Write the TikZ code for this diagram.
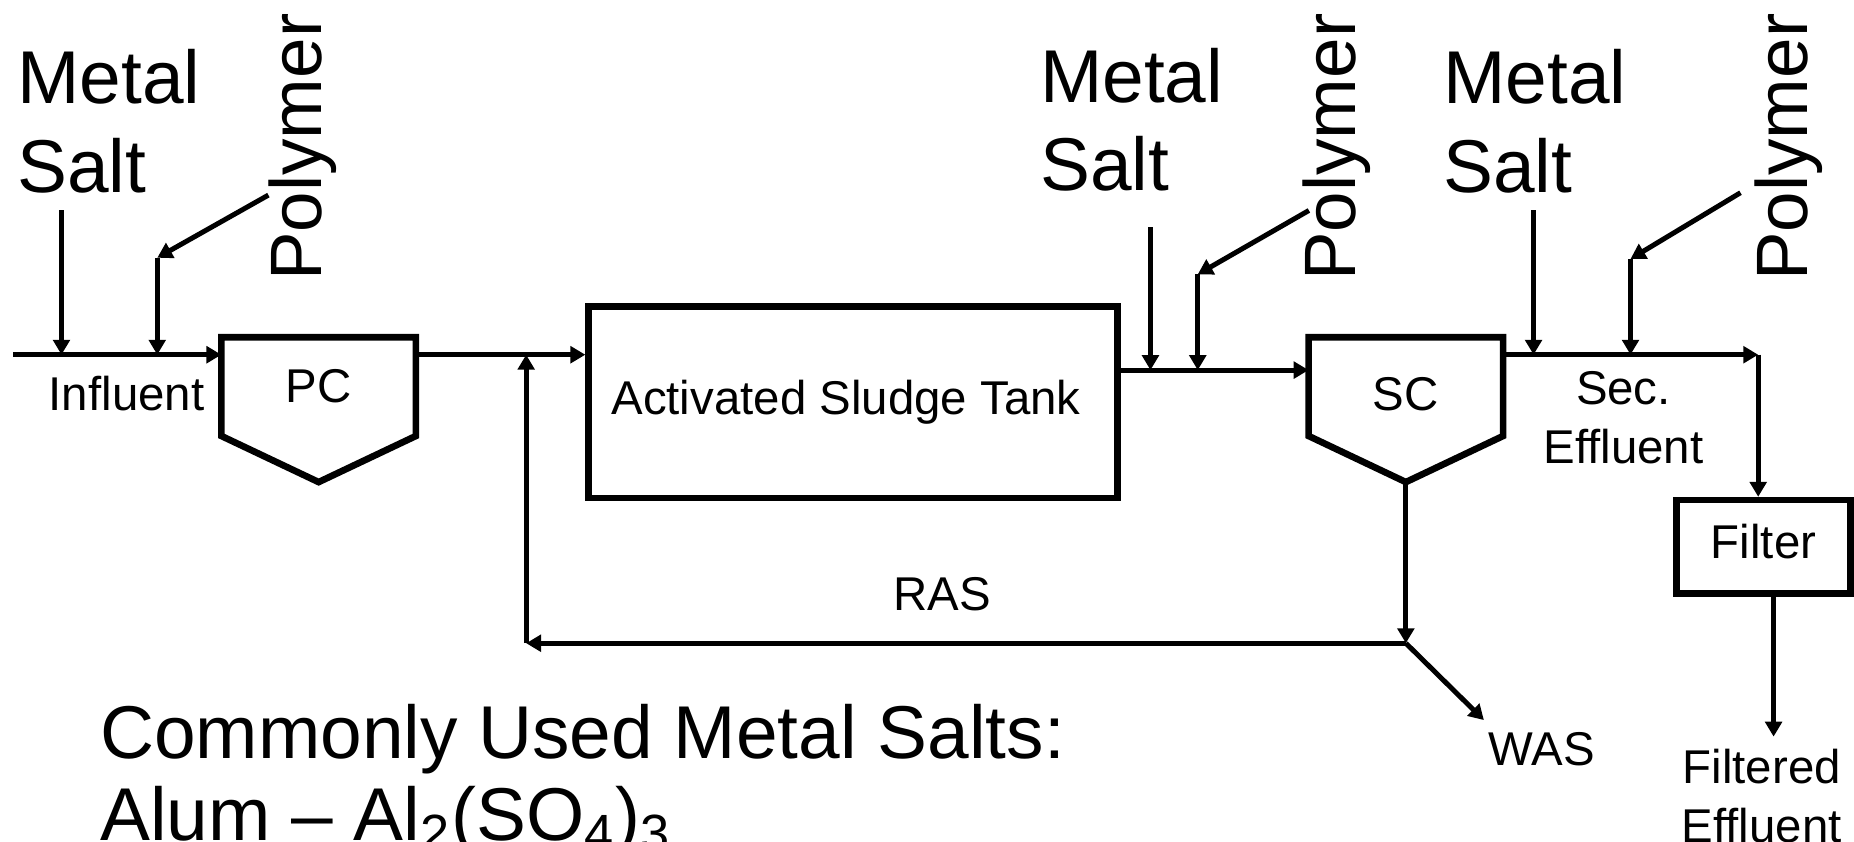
\documentclass[tikz,border=0pt]{standalone}
\usepackage{fontspec}
\setmainfont{Liberation Sans}
\usetikzlibrary{arrows.meta, calc}
\newcommand{\tagfont}{\fontsize{11.4}{14.2}\selectfont}
\newcommand{\chemfont}{\fontsize{18}{21.3}\selectfont}
\tikzset{
  tank/.style={rectangle, draw=black, line width=1.6pt, inner sep=0pt,
    font=\tagfont},
  settler/.style={rectangle, inner sep=0pt, minimum width=1.63cm,
    minimum height=0.82cm, font=\tagfont},
  settlerline/.style={line width=1.6pt, line join=miter},
  flow/.style={-{Triangle[length=3.6pt,width=4pt]}, line width=1.2pt},
  tag/.style={inner sep=0pt, font=\tagfont},
  chem/.style={inner sep=0pt, font=\chemfont},
  polytag/.style={chem, font=\fontsize{17.5}{21}\selectfont, rotate=90,
    anchor=base west}
}

\begin{document}
\begin{tikzpicture}[x=0.01cm, y=-0.01cm]
  \clip (0,0) rectangle (1568,712);
  % Process units
  \node[settler] (pc) at (269.5,327) {PC};
  \node[settler, text height=0.4cm] (sc) at (1189,327) {SC};
  \node[tank, minimum width=4.47cm, minimum height=1.62cm] (ast) at (721.5,340) {Activated Sludge Tank\hspace*{0.12cm}};
  \node[tank, minimum width=1.47cm, minimum height=0.79cm, text depth=0.094cm] (filter) at (1491.5,462.5) {Filter};
  \coordinate (pctip) at ($(pc.south)+(0,39)$);
  \coordinate (sctip) at ($(sc.south)+(0,39)$);
  \draw[settlerline] (pc.north west) -- (pc.north east) -- (pc.south east)
    -- (pctip) -- (pc.south west) -- cycle;
  \draw[settlerline] (sc.north west) -- (sc.north east) -- (sc.south east)
    -- (sctip) -- (sc.south west) -- cycle;

  % Chemical feeds
  \node[chem, anchor=north west, align=left] (salt1) at (14,41) {Metal\\Salt};
  \node[chem, anchor=north west, align=left] (salt2) at (879,40) {Metal\\Salt};
  \node[chem, anchor=north west, align=left] (salt3) at (1220,41) {Metal\\Salt};
  \node[polytag] (poly1) at (272,238) {Polymer};
  \node[polytag] (poly2) at (1146,238) {Polymer};
  \node[polytag] (poly3) at (1529,238) {Polymer};

  % Stream labels
  \node[tag, anchor=base] (influent) at (107,347) {Influent};
  \node[tag, anchor=north, align=center] (seceff) at (1373,313) {Sec.\\Effluent};
  \node[tag, anchor=north, align=center] (fileff) at (1490,633) {Filtered\\Effluent};
  \node[tag, anchor=base] (ras) at (797,516) {RAS};
  \node[tag, anchor=base] (was) at (1304,647) {WAS};
  \node[chem, anchor=north west, align=left,
    font=\fontsize{18}{19.6}\selectfont] (salts) at (84,595)
    {Commonly Used Metal Salts:\\Alum -- Al\textsubscript{2}(SO\textsubscript{4})\textsubscript{3}};

  % Free ends of the lines
  \coordinate (inflow) at (11,300);
  \coordinate (ms1) at (52,178);
  \coordinate (pl1) at (227,165);
  \coordinate (pb1) at (133,218);
  \coordinate (mlout) at (946,313);
  \coordinate (ms2) at (973,192);
  \coordinate (pl2) at (1107,178);
  \coordinate (pb2) at (1013,232);
  \coordinate (ms3) at (1297,178);
  \coordinate (pl3) at (1472,163);
  \coordinate (pb3) at (1379,219);
  \coordinate (sec) at (1487,300);
  \coordinate (jn) at (1189,544);
  \coordinate (ret) at (445,544);
  \coordinate (wasend) at (1255,609);
  \coordinate (fout) at (1500,623);

  % Influent to PC
  \draw[flow] (inflow) -- (inflow -| pc.west);
  \draw[flow] (ms1) -- (ms1 |- inflow);
  \draw[flow] (pl1) -- (pb1);
  \draw[flow] (pb1) -- (pb1 |- inflow);
  % PC to aeration tank
  \draw[flow] (pc.east |- inflow) -- (ast.west |- inflow);
  % Aeration tank to SC
  \draw[flow] (mlout) -- (mlout -| sc.west);
  \draw[flow] (ms2) -- (ms2 |- mlout);
  \draw[flow] (pl2) -- (pb2);
  \draw[flow] (pb2) -- (pb2 |- mlout);
  % SC to filter
  \draw[flow] (sc.east |- sec) -- (sec);
  \draw[flow] (ms3) -- (ms3 |- sec);
  \draw[flow] (pl3) -- (pb3);
  \draw[flow] (pb3) -- (pb3 |- sec);
  \draw[flow] (sec) -- (sec |- filter.north);
  \draw[flow] (fout |- filter.south) -- (fout);
  % Sludge return and wasting
  \draw[flow] (sctip) -- (jn);
  \draw[flow] (jn) -- (ret);
  \draw[flow] (ret) -- (ret |- inflow);
  \draw[flow] (jn) -- (wasend);
\end{tikzpicture}
\end{document}
